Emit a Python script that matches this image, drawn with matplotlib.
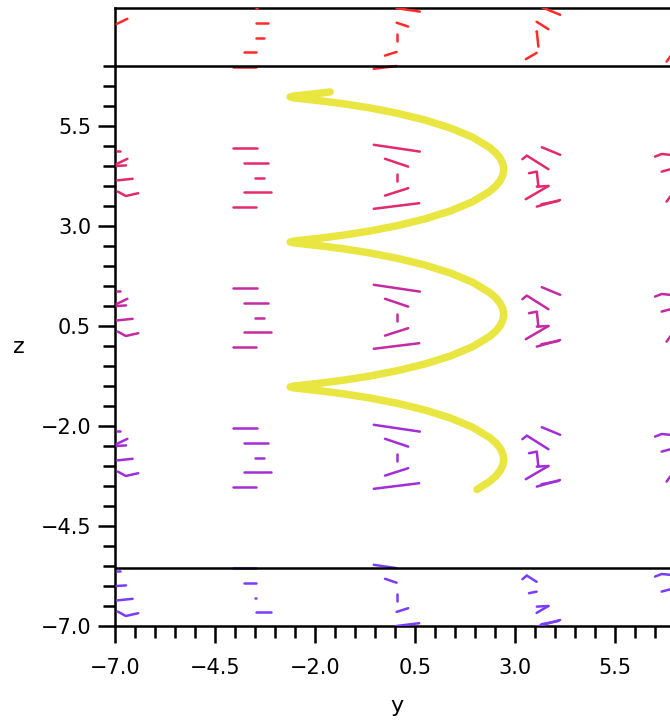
import matplotlib
matplotlib.use("Agg")
import matplotlib.pyplot as plt
from matplotlib.collections import LineCollection
from matplotlib.ticker import FixedLocator, FuncFormatter

plt.rcParams['font.family'] = ['DejaVu Sans']

# projected positions of the field samples (columns along y, rows along z)
col_y = [-7.0, -3.48, 0.04, 3.54, 7.0]
row_z = [7.71, 4.21, 0.71, -2.79, -6.29]
row_colors = ['#ff2b2b', '#e22a6c', '#c42aa2', '#a22fd6', '#7a3cff']

# arrow strokes of each column, (dy, dz) offsets from the sample position
col_strokes = [
    [[(0.04, 0.67), (0.125, 0.67)],
     [(0.04, 0.34), (0.31, 0.47)],
     [(0.04, 0.29), (0.275, 0.305)],
     [(0.05, -0.07), (0.44, -0.03)],
     [(0.07, -0.35), (0.27, -0.46), (0.58, -0.39)]],
    [[(-0.58, 0.735), (0.02, 0.735)],
     [(-0.30, 0.36), (0.31, 0.36)],
     [(-0.025, 0.0), (0.21, 0.0)],
     [(-0.30, -0.35), (0.375, -0.35)],
     [(-0.58, -0.725), (0.0, -0.725)]],
    [[(-0.57, 0.82), (0.58, 0.65)],
     [(-0.29, 0.47), (0.29, 0.275)],
     [(0.0, 0.085), (0.0, -0.08)],
     [(-0.29, -0.45), (0.29, -0.265)],
     [(-0.57, -0.78), (0.565, -0.64)]],
    [[(0.13, 0.76), (0.59, 0.57)],
     [(-0.355, 0.46), (-0.245, 0.55), (0.295, 0.21)],
     [(-0.19, 0.11), (0.005, 0.15), (0.045, -0.225)],
     [(-0.27, -0.54), (0.295, -0.21)],
     [(0.005, -0.225), (0.295, -0.21)],
     [(0.005, -0.725), (0.585, -0.56)],
     [(0.12, -0.665), (0.55, -0.585)]],
    [[(-0.5, 0.525), (-0.333, 0.59), (-0.125, 0.57), (0.05, 0.6)],
     [(-0.333, 0.15), (0.0, 0.24)],
     [(-0.21, -0.6), (0.0, -0.31)]],
]
# strokes shown in the top / bottom band for the two edge columns
edge_masks = {0: ([0, 1, 0, 0, 0], [1, 0, 1, 1, 1]),
              4: ([0, 0, 1], [1, 1, 0])}

# trajectory (projected helix)
helix_y = [2.05, 2.362, 2.517, 2.629, 2.697, 2.72, 2.697, 2.629, 2.517, 2.362,
           1.938, 1.385, 0.741, 0.05, -0.641, -1.285, -1.838, -2.262, -2.529,
           -2.62, -2.529, -2.262, -1.838, -1.285, -0.641, 0.05, 0.741, 1.385,
           1.938, 2.362, 2.517, 2.629, 2.697, 2.72, 2.697, 2.629, 2.517, 2.362,
           1.938, 1.385, 0.741, 0.05, -0.641, -1.285, -1.838, -2.262, -2.529,
           -2.62, -2.529, -2.262, -1.838, -1.285, -0.641, 0.05, 0.741, 1.385,
           1.938, 2.362, 2.517, 2.629, 2.697, 2.72, 2.697, 2.629, 2.517, 2.362,
           1.938, 1.385, 0.741, 0.05, -0.641, -1.285, -1.838, -2.262, -2.529,
           -2.62, -2.529, -2.262, -1.838, -1.623]
helix_z = [-3.587, -3.390, -3.256, -3.118, -2.979, -2.838, -2.697, -2.557,
           -2.420, -2.286, -2.031, -1.800, -1.599, -1.431, -1.297, -1.196,
           -1.125, -1.077, -1.047,
           -1.025, -1.003, -0.973, -0.925, -0.854, -0.753, -0.619, -0.451,
           -0.250, -0.019, 0.236, 0.370, 0.507, 0.647, 0.788, 0.929, 1.068,
           1.206, 1.340, 1.595, 1.825, 2.026, 2.194, 2.328, 2.429, 2.501,
           2.548, 2.579,
           2.600, 2.622, 2.653, 2.700, 2.772, 2.873, 3.007, 3.175, 3.376,
           3.606, 3.861, 3.995, 4.133, 4.272, 4.413, 4.554, 4.694, 4.831,
           4.965, 5.220, 5.450, 5.651, 5.820, 5.954, 6.055, 6.126, 6.174,
           6.204,
           6.226, 6.248, 6.278, 6.325, 6.352]

z_ticks = [-7.0, -4.5, -2.0, 0.5, 3.0, 5.5]
y_ticks = [-7.0, -4.5, -2.0, 0.5, 3.0, 5.5]
box_lines = [7.0, -5.55]


def half_of(stroke, keep_right):
    """keep the part of a stroke on one side of the sample position"""
    out = []
    for (y0, z0), (y1, z1) in zip(stroke[:-1], stroke[1:]):
        s0 = y0 if keep_right else -y0
        s1 = y1 if keep_right else -y1
        if s0 < 0 and s1 < 0:
            continue
        if s0 < 0 or s1 < 0:
            f = s0 / (s0 - s1)
            ym, zm = y0 + f * (y1 - y0), z0 + f * (z1 - z0)
            if s0 < 0:
                y0, z0 = ym, zm
            else:
                y1, z1 = ym, zm
        out.append([(y0, z0), (y1, z1)])
    return out


def fmt(v, pos):
    return ('%.1f' % v).replace('-', '\u2212')


fig = plt.figure(figsize=(6.7, 7.21), dpi=100)
ax = fig.add_axes([115 / 670, 95 / 721, 555 / 670, 618 / 721])
ax.set_xlim(-7, 6.875)
ax.set_ylim(-7, 8.45)

for r, (zc, colr) in enumerate(zip(row_z, row_colors)):
    segs = []
    for c, yc in enumerate(col_y):
        for k, stroke in enumerate(col_strokes[c]):
            pts = [(yc + dy, zc + dz) for dy, dz in stroke]
            if r in (0, len(row_z) - 1):
                if c in edge_masks:
                    mask = edge_masks[c][0 if r == 0 else 1]
                    if mask[k]:
                        segs.append(pts)
                    continue
                upper = sum(dz for _, dz in stroke) >= 0
                keep_right = upper if r == 0 else not upper
                for piece in half_of(stroke, keep_right):
                    segs.append([(yc + dy, zc + dz) for dy, dz in piece])
            else:
                segs.append(pts)
    ax.add_collection(LineCollection(segs, colors=colr, linewidths=1.8,
                                     capstyle='round', joinstyle='round',
                                     zorder=3))

ax.plot(helix_y, helix_z, color='#e9e641', lw=5.4, solid_capstyle='round',
        solid_joinstyle='round', zorder=5)

for zl in box_lines:
    ax.axhline(zl, color='black', lw=1.8, zorder=4)

for side in ['left', 'bottom', 'top']:
    ax.spines[side].set_linewidth(1.8)
ax.spines['right'].set_visible(False)

minors = [v / 2 for v in range(-14, 15)]
ax.xaxis.set_major_locator(FixedLocator(y_ticks))
ax.yaxis.set_major_locator(FixedLocator(z_ticks))
ax.xaxis.set_minor_locator(FixedLocator(minors))
ax.yaxis.set_minor_locator(FixedLocator(minors))
ax.xaxis.set_major_formatter(FuncFormatter(fmt))
ax.yaxis.set_major_formatter(FuncFormatter(fmt))
ax.tick_params(which='major', direction='out', length=12.2, width=1.8,
               labelsize=15)
ax.tick_params(which='minor', direction='out', length=8.6, width=1.8)
ax.tick_params(axis='y', which='major', pad=5)
ax.tick_params(axis='x', which='major', pad=11)
ax.tick_params(top=False, right=False, which='both')

fig.text(19 / 670, (721 - 353) / 721, 'z', ha='center', va='baseline',
         fontsize=16)
fig.text(397 / 670, (721 - 712) / 721, 'y', ha='center', va='baseline',
         fontsize=16)

fig.savefig('out.png', dpi=100)
